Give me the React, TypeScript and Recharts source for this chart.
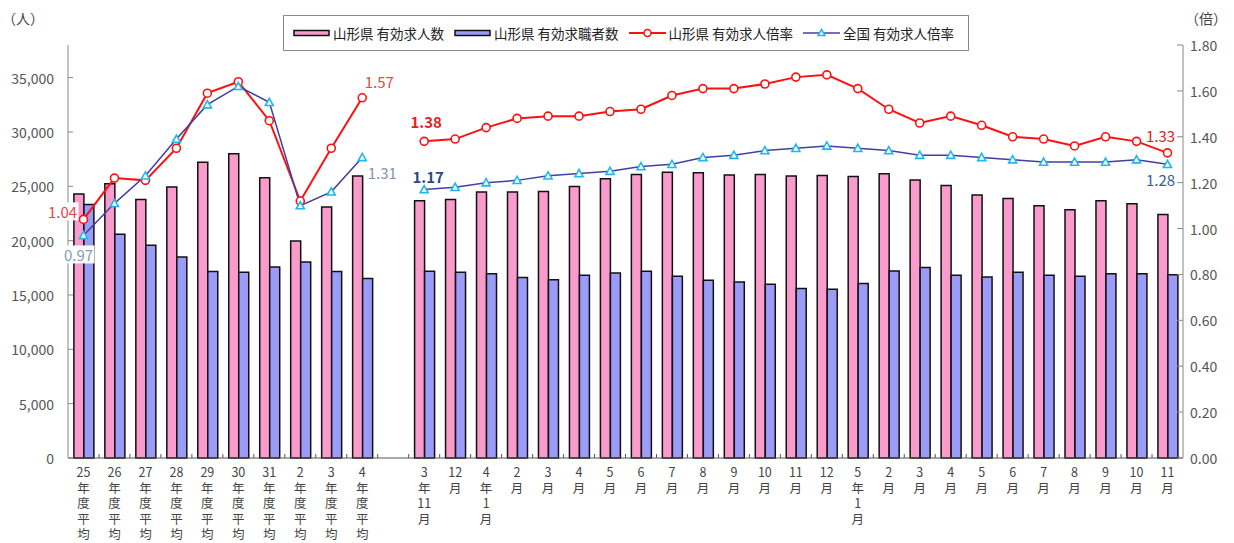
import React from 'react';
import { ComposedChart, Bar, Line, XAxis, YAxis, Legend, LabelList } from 'recharts';

// Category labels: fiscal-year averages, a spacer slot, then monthly figures
const CATEGORIES: string[] = [
  '25年度平均', '26年度平均', '27年度平均', '28年度平均', '29年度平均',
  '30年度平均', '31年度平均', '2年度平均', '3年度平均', '4年度平均',
  '',
  '3年11月', '12月', '4年1月', '2月', '3月', '4月', '5月', '6月', '7月', '8月',
  '9月', '10月', '11月', '12月', '5年1月', '2月', '3月', '4月', '5月', '6月',
  '7月', '8月', '9月', '10月', '11月',
];

// 山形県 有効求人数 (人)
const JOB_OPENINGS: (number | null)[] = [
  24300, 25230, 23790, 24930, 27220, 27990, 25780, 19960, 23090, 25940,
  null,
  23670, 23790, 24470, 24470, 24530, 24990, 25690, 26090, 26300, 26240,
  26030, 26090, 25940, 26000, 25910, 26150, 25570, 25080, 24190, 23880,
  23210, 22840, 23670, 23390, 22410,
];

// 山形県 有効求職者数 (人)
const JOB_SEEKERS: (number | null)[] = [
  23330, 20580, 19570, 18490, 17150, 17090, 17580, 18030, 17150, 16510,
  null,
  17180, 17090, 16960, 16600, 16410, 16810, 17030, 17180, 16720, 16350,
  16200, 15980, 15590, 15520, 16050, 17210, 17520, 16810, 16660, 17090,
  16810, 16720, 16960, 16960, 16870,
];

// 山形県 有効求人倍率 (倍)
const RATIO_YAMAGATA: (number | null)[] = [
  1.04, 1.22, 1.21, 1.35, 1.59, 1.64, 1.47, 1.12, 1.35, 1.57,
  null,
  1.38, 1.39, 1.44, 1.48, 1.49, 1.49, 1.51, 1.52, 1.58, 1.61,
  1.61, 1.63, 1.66, 1.67, 1.61, 1.52, 1.46, 1.49, 1.45, 1.40,
  1.39, 1.36, 1.40, 1.38, 1.33,
];

// 全国 有効求人倍率 (倍)
const RATIO_NATIONAL: (number | null)[] = [
  0.97, 1.11, 1.23, 1.39, 1.54, 1.62, 1.55, 1.10, 1.16, 1.31,
  null,
  1.17, 1.18, 1.20, 1.21, 1.23, 1.24, 1.25, 1.27, 1.28, 1.31,
  1.32, 1.34, 1.35, 1.36, 1.35, 1.34, 1.32, 1.32, 1.31, 1.30,
  1.29, 1.29, 1.29, 1.30, 1.28,
];

const PERSON_TICKS = [0, 5000, 10000, 15000, 20000, 25000, 30000, 35000];
const RATIO_TICKS = [0, 0.2, 0.4, 0.6, 0.8, 1.0, 1.2, 1.4, 1.6, 1.8];

const data = CATEGORIES.map((label, i) => ({
  label,
  openings: JOB_OPENINGS[i],
  seekers: JOB_SEEKERS[i],
  yamagata: RATIO_YAMAGATA[i],
  national: RATIO_NATIONAL[i],
}));

const W = 1234;
const H = 543;
const LEFT_W = 68;
const RIGHT_W = 51;
const X_H = 85;
const BAND = (W - LEFT_W - RIGHT_W) / CATEGORIES.length;
const FONT = '"Noto Sans CJK JP", "Noto Sans", sans-serif';

const PINK = '#F99BCB';
const LAVENDER = '#9B9BF8';
const RED = '#FF1010';
const NAVY = '#4040A0';
const CYAN = '#1EB8F0';

type LabelSpec = { dx: number; dy: number; color: string; bold?: boolean; bg?: boolean };

// Value callouts placed next to selected points
const YAMAGATA_LABELS: Record<number, LabelSpec> = {
  0: { dx: -21, dy: -8, color: '#E44848', bg: true },
  9: { dx: 17, dy: -16, color: '#E44848' },
  11: { dx: 2, dy: -20, color: '#E02222', bold: true },
  35: { dx: -7, dy: -17, color: '#E02222' },
};
const NATIONAL_LABELS: Record<number, LabelSpec> = {
  0: { dx: -5, dy: 19, color: '#7F9CBC', bg: true },
  9: { dx: 20, dy: 15, color: '#7F93AE' },
  11: { dx: 4, dy: -13, color: '#2E4A82', bold: true },
  35: { dx: -7, dy: 15, color: '#3B5A98' },
};

function makeRatioLabel(spec: Record<number, LabelSpec>) {
  return (props: any) => {
    const index = props.index;
    const s = spec[index];
    if (!s || props.value == null) return null;
    const px = props.x ?? props.viewBox?.x;
    const py = props.y ?? props.viewBox?.y;
    if (px == null || py == null) return null;
    const text = Number(props.value).toFixed(2);
    const cx = px + s.dx;
    const cy = py + s.dy;
    return (
      <g>
        {s.bg && <rect x={cx - 16} y={cy - 9} width={32} height={18} fill="#fff" />}
        <text
          x={cx}
          y={cy}
          textAnchor="middle"
          dominantBaseline="central"
          fontSize={15}
          fontWeight={s.bold ? 600 : 400}
          fill={s.color}
          fontFamily={FONT}
        >
          {text}
        </text>
      </g>
    );
  };
}

// Category names are written top-to-bottom: digit runs stay together, other characters stack singly
function XTick(props: any) {
  const { x, y, payload, index } = props;
  const parts: string[] = String(payload?.value ?? '').match(/\d+|./g) || [];
  const isLast = index === CATEGORIES.length - 1;
  return (
    <g>
      {!isLast && (
        <line x1={x + BAND / 2} x2={x + BAND / 2} y1={y - 4} y2={y} stroke="#555" />
      )}
      {parts.length > 0 && (
        <text
          x={x}
          y={y + 13}
          textAnchor="middle"
          dominantBaseline="central"
          fontSize={12.5}
          fill="#444"
          fontFamily={FONT}
        >
          {parts.map((p, k) => (
            <tspan key={k} x={x} dy={k === 0 ? 0 : 15.5}>
              {p}
            </tspan>
          ))}
        </text>
      )}
    </g>
  );
}

function LeftTick(props: any) {
  const { x, y, payload } = props;
  return (
    <g>
      <line x1={x + 14} x2={x + 19} y1={y} y2={y} stroke="#888" />
      <text x={x} y={y} textAnchor="end" dominantBaseline="central" fontSize={14} fill="#555" fontFamily={FONT}>
        {Number(payload.value).toLocaleString('en-US')}
      </text>
    </g>
  );
}

function RightTick(props: any) {
  const { x, y, payload } = props;
  return (
    <g>
      <line x1={x - 7} x2={x - 13} y1={y} y2={y} stroke="#888" />
      <text x={x} y={y} textAnchor="start" dominantBaseline="central" fontSize={14} fill="#555" fontFamily={FONT}>
        {Number(payload.value).toFixed(2)}
      </text>
    </g>
  );
}

function unitLabel(text: string, dx: number) {
  return (props: any) => {
    const vb = props.viewBox || {};
    return (
      <text
        x={(vb.x ?? 0) + dx}
        y={(vb.y ?? 0) - 27}
        textAnchor="start"
        dominantBaseline="central"
        fontSize={14}
        fill="#444"
        fontFamily={FONT}
      >
        {text}
      </text>
    );
  };
}

function Triangle(props: any) {
  const { cx, cy, index } = props;
  if (cx == null || cy == null) return <g key={`tri-${index}`} />;
  const s = 4;
  return (
    <path
      key={`tri-${index}`}
      d={`M${cx},${cy - s} L${cx + s},${cy + s * 0.8} L${cx - s},${cy + s * 0.8} Z`}
      fill="#fff"
      stroke={CYAN}
      strokeWidth={1.6}
    />
  );
}

const LEGEND_ITEMS = [
  { name: '山形県 有効求人数', kind: 'bar', color: PINK },
  { name: '山形県 有効求職者数', kind: 'bar', color: LAVENDER },
  { name: '山形県 有効求人倍率', kind: 'circle', color: RED },
  { name: '全国 有効求人倍率', kind: 'triangle', color: NAVY },
];

function LegendBox() {
  return (
    <div
      style={{
        boxSizing: 'border-box',
        width: '100%',
        height: '100%',
        border: '1px solid #8a8a8a',
        background: '#fff',
        display: 'flex',
        alignItems: 'center',
        paddingLeft: 9,
        fontFamily: FONT,
        fontSize: 13.5,
        color: '#222',
        whiteSpace: 'nowrap',
      }}
    >
      {LEGEND_ITEMS.map((it, i) => (
        <div key={it.name} style={{ display: 'flex', alignItems: 'center', marginRight: i < 3 ? 10 : 0 }}>
          <svg width={37} height={12} style={{ marginRight: 3 }}>
            {it.kind === 'bar' && (
              <rect x={1} y={3.5} width={35} height={5} fill={it.color} stroke="#111" strokeWidth={1.5} />
            )}
            {it.kind === 'circle' && (
              <g>
                <line x1={0} x2={37} y1={6} y2={6} stroke={it.color} strokeWidth={2} />
                <circle cx={18.5} cy={6} r={3.5} fill="#fff" stroke={it.color} strokeWidth={1.5} />
              </g>
            )}
            {it.kind === 'triangle' && (
              <g>
                <line x1={0} x2={37} y1={6} y2={6} stroke={it.color} strokeWidth={1.5} />
                <path d="M18.5,2.5 L22,8.5 L15,8.5 Z" fill="#fff" stroke={CYAN} strokeWidth={1.5} />
              </g>
            )}
          </svg>
          <span>{it.name}</span>
        </div>
      ))}
    </div>
  );
}

export default function App() {
  return (
    <div style={{ position: 'absolute', left: 0, top: 0, width: W, height: H, background: '#fff' }}>
      <ComposedChart
        width={W}
        height={H}
        data={data}
        margin={{ top: 45, right: 0, bottom: 0, left: 0 }}
        barCategoryGap="19%"
        barGap={0}
        style={{ fontFamily: FONT }}
      >
        <XAxis
          dataKey="label"
          xAxisId="x"
          interval={0}
          height={X_H}
          tickSize={0}
          tickMargin={0}
          tickLine={false}
          axisLine={{ stroke: '#555' }}
          tick={<XTick />}
          allowDuplicatedCategory
        />
        <YAxis
          yAxisId="persons"
          orientation="left"
          width={LEFT_W}
          domain={[0, 38000]}
          ticks={PERSON_TICKS}
          tickSize={0}
          tickMargin={14}
          tickLine={false}
          axisLine={{ stroke: '#888' }}
          tick={<LeftTick />}
          label={{ content: unitLabel('（人）', 2) } as any}
        />
        <YAxis
          yAxisId="ratio"
          orientation="right"
          width={RIGHT_W}
          domain={[0, 1.8]}
          ticks={RATIO_TICKS}
          tickSize={0}
          tickMargin={7}
          tickLine={false}
          axisLine={{ stroke: '#888' }}
          tick={<RightTick />}
          label={{ content: unitLabel('（倍）', 2) } as any}
        />
        <Legend
          layout="horizontal"
          verticalAlign="middle"
          align="center"
          content={() => <LegendBox />}
          wrapperStyle={{ left: 283, top: 15, width: 686, height: 36 }}
        />
        <Bar
          xAxisId="x"
          yAxisId="persons"
          dataKey="openings"
          name="山形県 有効求人数"
          fill={PINK}
          stroke="#111"
          strokeWidth={1.5}
          isAnimationActive={false}
        />
        <Bar
          xAxisId="x"
          yAxisId="persons"
          dataKey="seekers"
          name="山形県 有効求職者数"
          fill={LAVENDER}
          stroke="#111"
          strokeWidth={1.5}
          isAnimationActive={false}
        />
        <Line
          xAxisId="x"
          yAxisId="ratio"
          dataKey="yamagata"
          name="山形県 有効求人倍率"
          stroke={RED}
          strokeWidth={2}
          dot={{ r: 4, fill: '#fff', stroke: RED, strokeWidth: 1.6 }}
          activeDot={false}
          isAnimationActive={false}
        >
          <LabelList dataKey="yamagata" content={makeRatioLabel(YAMAGATA_LABELS)} />
        </Line>
        <Line
          xAxisId="x"
          yAxisId="ratio"
          dataKey="national"
          name="全国 有効求人倍率"
          stroke={NAVY}
          strokeWidth={1.5}
          dot={(p: any) => <Triangle key={`tri-${p.index}`} {...p} />}
          activeDot={false}
          isAnimationActive={false}
        >
          <LabelList dataKey="national" content={makeRatioLabel(NATIONAL_LABELS)} />
        </Line>
      </ComposedChart>
    </div>
  );
}
